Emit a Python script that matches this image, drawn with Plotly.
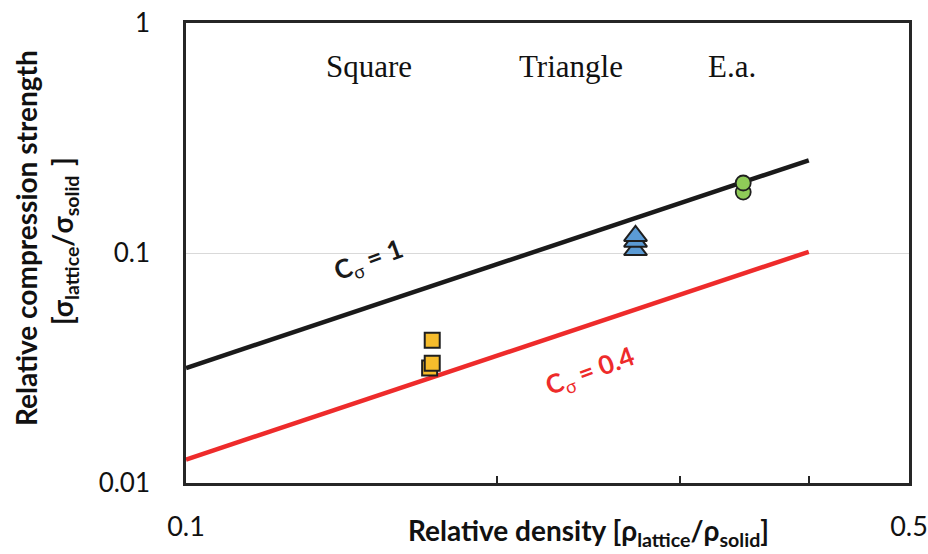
import plotly.graph_objects as go

# Measured lattices: relative density vs. relative compression strength
square_density = [0.172, 0.173, 0.173]
square_strength = [0.0316, 0.0332, 0.0418]

triangle_density = [0.272, 0.272, 0.272]
triangle_strength = [0.103, 0.112, 0.1186]

ea_density = [0.3457, 0.3457]
ea_strength = [0.184, 0.2015]

# Gibson-Ashby bounds (sigma_rel = C * rho_rel^1.5), end points of each line
fit_density = [0.1, 0.4]
fit_c1 = [0.0316, 0.253]
fit_c04 = [0.01265, 0.1012]

# Axis ticks
x_tickvals = [0.1, 0.5]
x_ticktext = ["0.1", "0.5"]
x_minor_ticks = [0.2, 0.3, 0.4]
y_tickvals = [0.01, 0.1, 1]
y_ticktext = ["0.01", "0.1", "1"]

FONT = "Lato"
INK = "#262626"
RED = "#EE2B2B"

# plot-area geometry in pixels (used to place free text)
L, R, T, B = 186, 909, 23, 483
W, H = R - L, B - T


def px(xp, yp):
    return (xp - L) / W, (B - yp) / H


fig = go.Figure()

fig.add_trace(go.Scatter(
    x=fit_density, y=fit_c1, mode="lines",
    line=dict(color="#1a1a1a", width=4.5), showlegend=False, hoverinfo="skip"))
fig.add_trace(go.Scatter(
    x=fit_density, y=fit_c04, mode="lines",
    line=dict(color=RED, width=4.5), showlegend=False, hoverinfo="skip"))

fig.add_trace(go.Scatter(
    x=square_density, y=square_strength, mode="markers", name="Square",
    marker=dict(symbol="square", size=15, color="#F6BC2C",
                line=dict(color="#1f1f1f", width=2)), showlegend=False))
fig.add_trace(go.Scatter(
    x=triangle_density, y=triangle_strength, mode="markers", name="Triangle",
    marker=dict(symbol="triangle-up", size=20, color="#5B9BD5",
                line=dict(color="#1f1f1f", width=2)), showlegend=False))
fig.add_trace(go.Scatter(
    x=ea_density, y=ea_strength, mode="markers", name="E.a.",
    marker=dict(symbol="circle", size=15, color="#8FCB58",
                line=dict(color="#1f1f1f", width=1.8)), showlegend=False))

# Category labels across the top
for label, xc in [("Square", 369), ("Triangle", 571), ("E.a.", 732)]:
    ax, ay = px(xc, 66)
    fig.add_annotation(
        text=label, xref="paper", yref="paper", x=ax, y=ay,
        xanchor="center", yanchor="middle", showarrow=False,
        font=dict(family="Liberation Serif", size=31, color="#111111"))

# Line labels
ax, ay = px(368, 260)
fig.add_annotation(
    text="<b>C</b><sub>σ</sub><b> = 1</b>", xref="paper", yref="paper",
    x=ax, y=ay, textangle=-20,
    xanchor="center", yanchor="middle", showarrow=False,
    font=dict(family=FONT, size=26, color="#1a1a1a"))
ax, ay = px(590, 371)
fig.add_annotation(
    text="<b>C</b><sub>σ</sub><b> = 0.4</b>", xref="paper", yref="paper",
    x=ax, y=ay, textangle=-20,
    xanchor="center", yanchor="middle", showarrow=False,
    font=dict(family=FONT, size=26, color=RED))

# Axis titles
ax, ay = px(588, 532)
fig.add_annotation(
    text="<b>Relative density [ρ<sub>lattice</sub>/ρ<sub>solid</sub>]</b>",
    xref="paper", yref="paper", x=ax, y=ay,
    xanchor="center", yanchor="middle", showarrow=False,
    font=dict(family=FONT, size=28, color="#111111"))
ax, ay = px(26, 238)
fig.add_annotation(
    text="<b>Relative compression strength</b>",
    xref="paper", yref="paper", x=ax, y=ay,
    textangle=-90, xanchor="center", yanchor="middle", showarrow=False,
    font=dict(family=FONT, size=28, color="#111111"))
ax, ay = px(64, 241)
fig.add_annotation(
    text="<b>[σ<sub>lattice</sub>/σ<sub>solid  </sub>]</b>",
    xref="paper", yref="paper", x=ax, y=ay,
    textangle=-90, xanchor="center", yanchor="middle", showarrow=False,
    font=dict(family=FONT, size=28, color="#111111"))

fig.update_xaxes(
    type="log", range=[-1, -0.30103], automargin=False,
    tickvals=x_tickvals, ticktext=x_ticktext,
    ticks="", ticklabelstandoff=18,
    minor=dict(tickvals=x_minor_ticks, ticks="inside", ticklen=7,
               tickwidth=2, tickcolor=INK, showgrid=False),
    showgrid=False, zeroline=False,
    showline=True, mirror=True, linecolor=INK, linewidth=2.5,
    tickfont=dict(family=FONT, size=27, color="#111111"))
fig.update_yaxes(
    type="log", range=[-2, 0], automargin=False,
    tickvals=y_tickvals, ticktext=y_ticktext,
    ticks="", ticklabelstandoff=28,
    showgrid=True, gridcolor="#D9D9D9", gridwidth=1.2, zeroline=False,
    showline=True, mirror=True, linecolor=INK, linewidth=2.5,
    tickfont=dict(family=FONT, size=26, color="#111111"))

fig.update_layout(
    width=928, height=554,
    margin=dict(l=L, r=928 - R, t=T, b=554 - B),
    paper_bgcolor="white", plot_bgcolor="white",
    showlegend=False)

fig.write_html("out.html")
